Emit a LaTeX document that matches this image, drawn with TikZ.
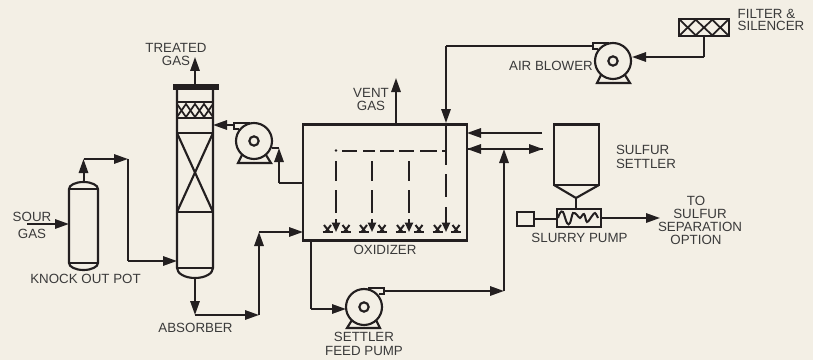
\documentclass[tikz,border=0pt]{standalone}
\usepackage{fontspec}
\setmainfont{Liberation Sans}
\usetikzlibrary{arrows.meta,calc}
\definecolor{bgc}{HTML}{F3EFE5}
\definecolor{ink}{HTML}{231F20}
\definecolor{txt}{HTML}{3A3A3A}
\tikzset{
  x=0.75pt,y=-0.75pt,
  pipe/.style={draw=ink,line width=1.5pt,line join=miter},
  arr/.style={pipe,-{Triangle[length=10.5pt,width=7pt]}},
  minarr/.style={pipe,-{Triangle[length=7pt,width=6pt]}},
  equip/.style={draw=ink,line width=1.6pt,fill=none},
  rectbox/.style={equip,rectangle,inner sep=0pt,outer sep=0pt},
  pumpc/.style={equip,circle,minimum size=27pt,inner sep=0pt,outer sep=0pt},
  hubc/.style={equip,circle,minimum size=7pt,inner sep=0pt},
  lab/.style={text=txt,inner sep=0pt,align=center,font=\fontsize{10}{9.75}\selectfont},
  pics/pumpbase/.style={code={
    \draw[equip] (-12,14) -- (-16,22) -- (17,22) -- (12,14);
    \draw[equip] (-4,-18) -- (-20,-18) -- (-20,-12) -- (-15,-12);
  }},
  pics/diffuser/.style={code={
    \draw[draw=ink,line width=1.5pt] (-5,0) -- (5,0);
    \draw[draw=ink,line width=1.5pt] (-3.5,-7) -- (2,0) (3.5,-7) -- (-2,0);
  }},
}
\begin{document}
\begin{tikzpicture}
\useasboundingbox (0,0) rectangle (813,360);
\fill[bgc] (0,0) rectangle (813,360);

% ---------- Knock out pot
\draw[equip] (69,189) -- (69,263) arc[start angle=180,end angle=360,x radius=14.5,y radius=-7] -- (98,189)
  arc[start angle=0,end angle=180,x radius=14.5,y radius=-7] -- cycle;
\draw[equip] (69,189) -- (98,189) (69,263) -- (98,263);
\coordinate (kotop) at (83.5,182);
\coordinate (koin) at (69,224);
\coordinate (sourstart) at (27,224);
\coordinate (ko1) at (83.5,159);
\coordinate (ko2) at (128,159);
\coordinate (ko3) at (128,261);
\coordinate (abin) at (177,261);

% ---------- Absorber
\draw[equip] (177,87) -- (177,268) arc[start angle=180,end angle=360,x radius=18,y radius=-10] -- (213,87);
\draw[equip] (177,268) -- (213,268);
\fill[ink] (173,84) rectangle (219,89.5);
\draw[equip] (177,102) -- (213,102) (177,118) -- (213,118);
\draw[draw=ink,line width=1.3pt] (177,104) -- (186,117) -- (195,104) -- (204,117) -- (213,104)
  (177,117) -- (186,104) -- (195,117) -- (204,104) -- (213,117);
\draw[equip] (177,133) -- (213,133) (177,212) -- (213,212);
\draw[equip] (177,212) -- (213,133) (177,133) -- (213,212);
\coordinate (abtop) at (195,85);
\coordinate (trt) at (195,57);
\coordinate (abbot) at (195,278);
\coordinate (ab1) at (195,315);
\coordinate (ab2) at (259,315);
\coordinate (ab3) at (259,232);
\coordinate (abret) at (213,125);

% ---------- Recirculation pump
\node[pumpc] (rp) at (254,141) {};
\node[hubc] (rph) at (254,141) {};
\pic at (254,141) {pumpbase};
\coordinate (rpout) at (234,125);
\coordinate (rpin) at (272,148);
\coordinate (rp1) at (279,148);
\coordinate (rp2) at (279,183);

% ---------- Oxidizer
\node[rectbox,minimum width=123pt,minimum height=87pt,anchor=north west] (ox) at (303,124.5) {};
\coordinate (v1top) at (396,78);
\coordinate (vent) at (396,124.5);
\coordinate (oxL1) at (303,183);
\coordinate (oxL2) at (303,232);
\coordinate (oxB) at (311,240);
\coordinate (oxR1) at (467,133);
\coordinate (oxR2) at (467,149);

% internal air header and spargers
\fill[ink] (336,150.5) circle[radius=1.1pt];
\foreach \xa/\xb in {342/357,363/375,380/394,399/414,420/437,442/446}{
  \draw[pipe] (\xa,150.5) -- (\xb,150.5);
}
\foreach \xx in {336,372,409}{
  \draw[pipe] (\xx,161) -- (\xx,181);
  \draw[pipe] (\xx,190) -- (\xx,213);
  \draw[minarr] (\xx,219) -- (\xx,232);
}
\draw[pipe] (446,174) -- (446,197);
\draw[minarr] (446,207) -- (446,232);
\foreach \xx in {336,372,409,446}{
  \pic at (\xx-8.5,232) {diffuser};
  \pic at (\xx+10,232) {diffuser};
}

% ---------- Settler feed pump
\node[pumpc] (fp) at (364,307) {};
\node[hubc] (fph) at (364,307) {};
\pic[xscale=-1] at (364,306) {pumpbase};
\coordinate (fp0) at (311,309);
\coordinate (fpin) at (346,309);
\coordinate (fpout) at (384,291);
\coordinate (fp1) at (504,291);
\coordinate (fp2) at (504,149);
\coordinate (oxR2e) at (543,149);
\coordinate (oxR1e) at (542,133);

% ---------- Air blower, filter
\node[pumpc] (ab) at (613,61) {};
\node[hubc] (abh) at (613,61) {};
\pic at (613,61) {pumpbase};
\node[rectbox,line width=1.9pt,minimum width=37.5pt,minimum height=12.75pt,anchor=north west] (fl) at (679,19) {};
\draw[draw=ink,line width=1.3pt] (680,20) -- (695.5,35) (695.5,20) -- (680,35)
  (696,20) -- (712,35) (712,20) -- (696,35)
  (712.5,20) -- (728,35) (728,20) -- (712.5,35);
\coordinate (fl0) at (704,36);
\coordinate (fl1) at (704,57);
\coordinate (abin2) at (632,57);
\coordinate (about) at (593,46);
\coordinate (air1) at (446,46);
\coordinate (air2) at (446,123);
\coordinate (air3) at (446,165);

% ---------- Sulfur settler
\draw[equip] (554,185) -- (554,124.5) -- (599,124.5) -- (599,185) -- cycle;
\draw[equip] (554,185) -- (576,198) -- (599,185);
\coordinate (sst) at (576,198);
\node[rectbox,minimum width=33pt,minimum height=13.5pt,anchor=north west] (sp) at (557,209) {};
\draw[pipe] (sst) -- (sp.north -| sst);
\draw[draw=ink,line width=1.5pt] plot[smooth,tension=0.6] coordinates {(558,218) (560,213) (563,212) (567,223) (570,223) (573,213) (577,215) (580,218) (584,214) (587,222) (592,216) (595,213) (598,218)};
\node[rectbox,minimum width=12.75pt,minimum height=10.5pt,anchor=north west] (sm) at (517,212) {};
\coordinate (spx) at (660,218);
\draw[pipe] (sm.east) -- (sm.east -| sp.west);
\coordinate (spe) at (sp.east -| spx);

% ---------- Connectors
\draw[arr] (sourstart) -- (koin);
\draw[arr] (kotop) -- (ko1);
\draw[arr] (ko1) -- (ko2);
\draw[pipe] (ko2) -- (ko3);
\draw[arr] (ko3) -- (abin);
\draw[arr] (abtop) -- (trt);
\draw[arr] (abbot) -- (ab1);
\draw[arr] (ab1) -- (ab2);
\draw[arr] (ab2) -- (ab3);
\draw[arr] (ab3) -- (oxL2);
\draw[arr] (rpout) -- (abret);
\draw[pipe] (oxL1) -- (rp2);
\draw[arr] (rp2) -- (rp1);
\draw[pipe] (rp1) -- (rpin);
\draw[arr] (vent) -- (v1top);
\draw[pipe] (oxB) -- (fp0);
\draw[arr] (fp0) -- (fpin);
\draw[arr] (fpout) -- (fp1);
\draw[arr] (fp1) -- (fp2);
\draw[arr] (oxR1e) -- (oxR1);
\draw[arr] (oxR2e) -- (oxR2);
\draw[arr] (oxR2) -- (oxR2e);
\draw[pipe] (fl0) -- (fl1);
\draw[arr] (fl1) -- (abin2);
\draw[pipe] (about) -- (air1);
\draw[arr] (air1) -- (air2);
\draw[pipe] (air2) -- (air3);
\draw[arr] (sp.east) -- (spe);

% ---------- Labels
\node[lab] (t1) at (176,54.5) {TREATED\\GAS};
\node[lab,font=\fontsize{10}{12.75}\selectfont] (t2) at (32,225) {SOUR\\GAS};
\node[lab] (t3) at (85.5,279) {KNOCK OUT POT};
\node[lab] (t4) at (195.5,328) {ABSORBER};
\node[lab] (t5) at (371,99.5) {VENT\\GAS};
\node[lab] (t6) at (385,250) {OXIDIZER};
\node[lab,font=\fontsize{10}{10.5}\selectfont] (t7) at (364,344) {SETTLER\\FEED PUMP};
\node[lab] (t8) at (551,66) {AIR BLOWER};
\node[lab,align=left,font=\fontsize{10}{9}\selectfont] (t9) at (771,20) {FILTER \&\\SILENCER};
\node[lab,align=left,font=\fontsize{10}{10.2}\selectfont] (t10) at (646,157) {SULFUR\\SETTLER};
\node[lab] (t11) at (579.5,238) {SLURRY PUMP};
\node[lab] (t12) at (700,220.5) {TO\hspace*{6pt}\\SULFUR\hspace*{6pt}\\SEPARATION\\OPTION\hspace*{6pt}};
\end{tikzpicture}
\end{document}
